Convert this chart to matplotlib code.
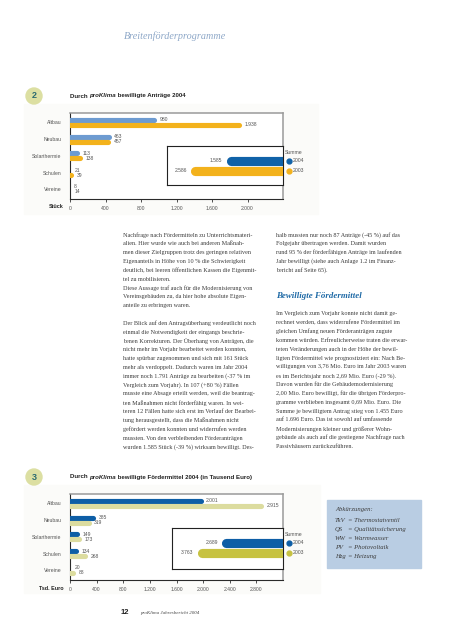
import matplotlib
matplotlib.use("Agg")
import matplotlib.pyplot as plt
from matplotlib.lines import Line2D
from matplotlib.patches import Rectangle, Ellipse

W, H = 452, 640

# ---------------- data ----------------
categories = ["Altbau", "Neubau", "Solarthermie", "Schulen", "Vereine"]

antraege_2004 = [980, 463, 113, 21, 8]
antraege_2003 = [1938, 457, 138, 39, 14]
antraege_summe_2004 = 1585
antraege_summe_2003 = 2586
antraege_ticks = [0, 400, 800, 1200, 1600, 2000]

mittel_2004 = [2001, 385, 149, 134, 20]
mittel_2003 = [2915, 319, 173, 268, 88]
mittel_summe_2004 = 2689
mittel_summe_2003 = 3763
mittel_ticks = [0, 400, 800, 1200, 1600, 2000, 2400, 2800]

legend_years = ["2004", "2003"]

abk_short = ["TkV", "QS", "WW", "PV", "Hzg"]
abk_long = ["= Thermostatventil", "= Qualitätssicherung", "= Warmwasser",
            "= Photovoltaik", "= Heizung"]

col1_lines = [
    "Nachfrage nach Fördermitteln zu Unterrichtsmateri-",
    "alien. Hier wurde wie auch bei anderen Maßnah-",
    "men dieser Zielgruppen trotz des geringen relativen",
    "Eigenanteils in Höhe von 10 % die Schwierigkeit",
    "deutlich, bei leeren öffentlichen Kassen die Eigenmit-",
    "tel zu mobilisieren.",
    "Diese Aussage traf auch für die Modernisierung von",
    "Vereinsgebäuden zu, da hier hohe absolute Eigen-",
    "anteile zu erbringen waren.",
    "",
    "Der Blick auf den Antragsüberhang verdeutlicht noch",
    "einmal die Notwendigkeit der eingangs beschrie-",
    "benen Korrekturen. Der Überhang von Anträgen, die",
    "nicht mehr im Vorjahr bearbeitet werden konnten,",
    "hatte spürbar zugenommen und sich mit 161 Stück",
    "mehr als verdoppelt. Dadurch waren im Jahr 2004",
    "immer noch 1.791 Anträge zu bearbeiten (-37 % im",
    "Vergleich zum Vorjahr). In 107 (+80 %) Fällen",
    "musste eine Absage erteilt werden, weil die beantrag-",
    "ten Maßnahmen nicht förderfähig waren. In wei-",
    "teren 12 Fällen hatte sich erst im Verlauf der Bearbei-",
    "tung herausgestellt, dass die Maßnahmen nicht",
    "gefördert werden konnten und widerrufen werden",
    "mussten. Von den verbleibenden Förderanträgen",
    "wurden 1.585 Stück (-39 %) wirksam bewilligt. Des-",
]
col2_top_lines = [
    "halb mussten nur noch 87 Anträge (-45 %) auf das",
    "Folgejahr übertragen werden. Damit wurden",
    "rund 95 % der förderfähigen Anträge im laufenden",
    "Jahr bewilligt (siehe auch Anlage 1.2 im Finanz-",
    "bericht auf Seite 65).",
]
col2_bottom_lines = [
    "Im Vergleich zum Vorjahr konnte nicht damit ge-",
    "rechnet werden, dass widerrufene Fördermittel im",
    "gleichen Umfang neuen Förderanträgen zugute",
    "kommen würden. Erfreulicherweise traten die erwar-",
    "teten Veränderungen auch in der Höhe der bewil-",
    "ligten Fördermittel wie prognostiziert ein: Nach Be-",
    "willigungen von 3,76 Mio. Euro im Jahr 2003 waren",
    "es im Berichtsjahr noch 2,69 Mio. Euro (-29 %).",
    "Davon wurden für die Gebäudemodernisierung",
    "2,00 Mio. Euro bewilligt, für die übrigen Förderpro-",
    "gramme verblieben insgesamt 0,69 Mio. Euro. Die",
    "Summe je bewilligtem Antrag stieg von 1.455 Euro",
    "auf 1.696 Euro. Das ist sowohl auf umfassende",
    "Modernisierungen kleiner und größerer Wohn-",
    "gebäude als auch auf die gestiegene Nachfrage nach",
    "Passivhäusern zurückzuführen.",
]

# ---------------- styling ----------------
SANS = ["Liberation Sans Narrow", "Liberation Sans", "DejaVu Sans"]
SERIF = ["Liberation Serif", "DejaVu Serif"]
TXT = "#3c3c3c"
LBL = "#555555"


def fx(x):
    return x / W


def fy(y):
    return 1 - y / H


def fmt(v):
    return f"{v:,}".replace(",", ".")


fig = plt.figure(figsize=(W / 100, H / 100), dpi=100)


def add_axes_px(x0, y0, x1, y1):
    return fig.add_axes([x0 / W, 1 - y1 / H, (x1 - x0) / W, (y1 - y0) / H])


def px_to_data(ax, px):
    x0, x1 = ax.get_xlim()
    wpx = ax.get_position().width * W
    return abs(x1 - x0) * px / wpx


def draw_chart(top, badge, title_pre, title_it, title_post, v2004, v2003,
               s2004, s2003, ticks, xmax, unit_label, col04, col03,
               scol04, scol03, inset_left, inset_xmax, bg_box):
    # very light background panel
    fig.add_artist(Rectangle((fx(bg_box[0]), fy(bg_box[3])),
                             (bg_box[2] - bg_box[0]) / W,
                             (bg_box[3] - bg_box[1]) / H,
                             transform=fig.transFigure, color="#fbfbf9",
                             zorder=0))
    # badge
    fig.add_artist(Ellipse((fx(34), fy(top)), 16 / W, 16 / H,
                           transform=fig.transFigure, color="#dcdfa2",
                           zorder=1))
    fig.text(fx(34), fy(top), badge, ha="center", va="center",
             fontsize=6.5, fontweight="bold", color="#2b6a70",
             family=SANS)
    # title
    tsize = 4.4
    t = fig.text(fx(70), fy(top), title_pre, ha="left", va="center",
                 fontsize=tsize, fontweight="bold", color="#222222",
                 family=SANS)
    fig.canvas.draw()
    r = fig.canvas.get_renderer()
    bb = t.get_window_extent(r)
    t2 = fig.text(bb.x1 / W, fy(top), title_it, ha="left",
                  va="center", fontsize=tsize, fontweight="bold",
                  style="italic", color="#222222", family=SANS)
    bb2 = t2.get_window_extent(r)
    fig.text(bb2.x1 / W, fy(top), title_post, ha="left",
             va="center", fontsize=tsize, fontweight="bold",
             color="#222222", family=SANS)

    # main axes
    ax_top = top + 17
    ax_bot = top + 103
    ax = add_axes_px(70, ax_top, 283, ax_bot)
    ax.set_facecolor("white")
    ax.set_xlim(0, xmax)
    ax.set_ylim(4.57, -0.56)
    bar_lw = 3.7
    r_data = px_to_data(ax, bar_lw * 100 / 72 / 2)
    ys = range(len(categories))
    for i, (a, b) in enumerate(zip(v2004, v2003)):
        for val, dy, col in ((a, -0.15, col04), (b, 0.15, col03)):
            ax.plot([0, max(val - r_data, 0)], [i + dy, i + dy], color=col,
                    lw=bar_lw, solid_capstyle="round", zorder=3)
            ax.text(val + px_to_data(ax, 3), i + dy, fmt(val), ha="left",
                    va="center", fontsize=3.6, color=LBL, family=SANS)
    ax.set_yticks(list(ys))
    ax.set_yticklabels(categories, fontsize=3.7, color=LBL, family=SANS)
    ax.tick_params(axis="y", length=0, pad=6)
    ax.set_xticks(ticks)
    ax.set_xticklabels([fmt(v) for v in ticks], fontsize=3.6, color=LBL,
                       family=SANS)
    ax.tick_params(axis="x", length=2.0, width=0.6, color="#333333",
                   pad=3)
    for s in ("left", "bottom"):
        ax.spines[s].set_color("#2a2a2a")
        ax.spines[s].set_linewidth(0.8)
    for s in ("top", "right"):
        ax.spines[s].set_color("#9a9a9a")
        ax.spines[s].set_linewidth(1.1)
    fig.text(fx(64), fy(ax_bot + 8), unit_label, ha="right", va="center",
             fontsize=3.9, fontweight="bold", color="#222222", family=SANS)

    # inset with sums (bars grow leftwards from the right edge)
    in_top = ax_top + 33 + (1 if top > 300 else 0)
    in_bot = in_top + 39 + (2 if top > 300 else 0)
    ia = add_axes_px(inset_left, in_top, 283, in_bot)
    ia.set_xlim(inset_xmax, 0)
    ia.set_ylim((in_bot - in_top - 15) / 10.0, -1.5)
    ia.set_xticks([])
    ia.set_yticks([])
    for s in ia.spines.values():
        s.set_color("#222222")
        s.set_linewidth(0.8)
    s_lw = 6.6
    rs = px_to_data(ia, s_lw * 100 / 72 / 2)
    for k, (val, col) in enumerate(((s2004, scol04), (s2003, scol03))):
        ia.plot([0, val - rs], [k, k], color=col, lw=s_lw,
                solid_capstyle="round", zorder=3)
        ia.text(val + px_to_data(ia, 4), k, fmt(val), ha="right",
                va="center", fontsize=3.6, color=LBL, family=SANS)
    # legend
    y04 = in_top + 15
    y03 = in_top + 25
    fig.text(fx(285), fy(y04 - 8), "Summe", ha="left", va="center",
             fontsize=3.7, color=LBL, family=SANS)
    for yy, col, lab in ((y04, scol04, legend_years[0]),
                         (y03, scol03, legend_years[1])):
        fig.add_artist(Line2D([fx(288.5)], [fy(yy)], marker="o",
                              markersize=3.5, color=col,
                              transform=fig.transFigure))
        fig.text(fx(293), fy(yy), lab, ha="left", va="center",
                 fontsize=3.7, color=LBL, family=SANS)
    return ax


# ---------------- page header ----------------
fig.text(fx(124), fy(36), "Breitenförderprogramme", ha="left", va="center",
         fontsize=7.3, style="italic", color="#8ea8c8", family=SERIF)

# ---------------- chart 2 (Anträge) ----------------
draw_chart(96, "2", "Durch ", "proKlima", " bewilligte Anträge 2004",
           antraege_2004, antraege_2003, antraege_summe_2004,
           antraege_summe_2003, antraege_ticks, 2400, "Stück",
           "#6d9bd1", "#f3b21c", "#1062a8", "#f3b21c", 167, 3250,
           (24, 104, 318, 214))

# ---------------- chart 3 (Fördermittel) ----------------
draw_chart(477, "3", "Durch ", "proKlima",
           " bewilligte Fördermittel 2004 (in Tausend Euro)",
           mittel_2004, mittel_2003, mittel_summe_2004, mittel_summe_2003,
           mittel_ticks, 3200, "Tsd. Euro",
           "#0d5ea6", "#dcdc9f", "#0d5ea6", "#c7c241", 172, 4880,
           (24, 485, 320, 593))

# ---------------- body text ----------------
LS = 8.83
BODY = 4.4
for i, line in enumerate(col1_lines):
    if line:
        fig.text(fx(123), fy(235 + i * LS), line, ha="left", va="center",
                 fontsize=BODY, color=TXT, family=SERIF)
for i, line in enumerate(col2_top_lines):
    fig.text(fx(276), fy(235 + i * LS), line, ha="left", va="center",
             fontsize=BODY, color=TXT, family=SERIF)
fig.text(fx(276), fy(296), "Bewilligte Fördermittel", ha="left",
         va="center", fontsize=6.4, style="italic", fontweight="bold",
         color="#1f6aa6", family=SERIF)
for i, line in enumerate(col2_bottom_lines):
    fig.text(fx(276), fy(314 + i * LS), line, ha="left", va="center",
             fontsize=BODY, color=TXT, family=SERIF)

# ---------------- abbreviations box ----------------
fig.add_artist(Rectangle((fx(327), fy(568)), 94 / W, 68 / H,
                         transform=fig.transFigure, color="#b9cde3",
                         zorder=0))
fig.text(fx(335), fy(510), "Abkürzungen:", ha="left", va="center",
         fontsize=4.8, style="italic", color=TXT, family=SERIF)
for i, (a, b) in enumerate(zip(abk_short, abk_long)):
    yy = 521 + i * 8.8
    fig.text(fx(335), fy(yy), a, ha="left", va="center", fontsize=4.8,
             style="italic", color=TXT, family=SERIF)
    fig.text(fx(348), fy(yy), b, ha="left", va="center", fontsize=4.8,
             style="italic", color=TXT, family=SERIF)

# ---------------- footer ----------------
fig.text(fx(121), fy(612), "12", ha="left", va="center", fontsize=5.5,
         fontweight="bold", color="#222222", family=SANS)
fig.text(fx(140), fy(613), "proKlima Jahresbericht 2004", ha="left",
         va="center", fontsize=3.6, style="italic", color="#444444",
         family=SERIF)

fig.savefig("out.png", dpi=100, facecolor="white")
